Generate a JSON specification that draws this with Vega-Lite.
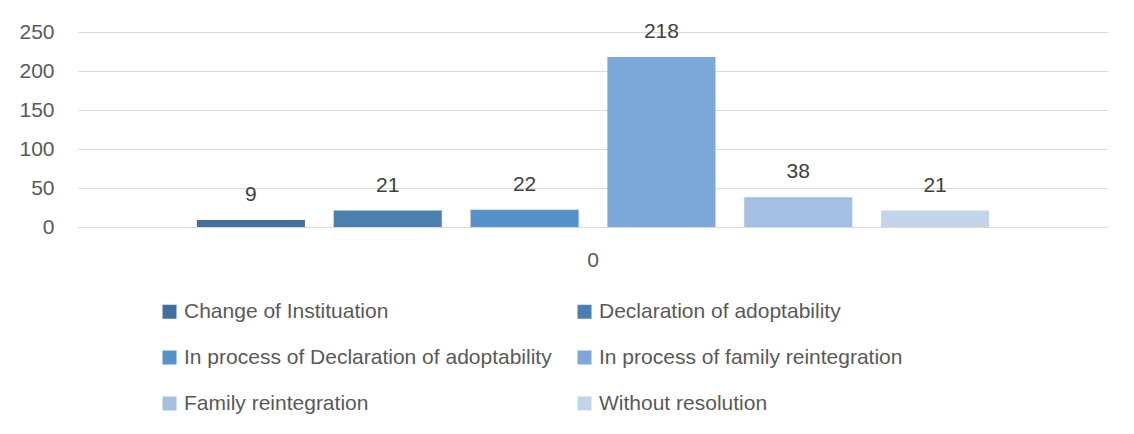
{
  "$schema": "https://vega.github.io/schema/vega-lite/v6.json",
  "width": 1030,
  "height": 195,
  "autosize": {"type": "none"},
  "padding": {"left": 78, "top": 32, "right": 26, "bottom": 207},
  "background": "white",
  "config": {"view": {"stroke": null}, "font": "Liberation Sans"},
  "data": {
    "values": [
      {"category": "0", "series": "Change of Instituation", "value": 9},
      {"category": "0", "series": "Declaration of adoptability", "value": 21},
      {"category": "0", "series": "In process of Declaration of adoptability", "value": 22},
      {"category": "0", "series": "In process of family reintegration", "value": 218},
      {"category": "0", "series": "Family reintegration", "value": 38},
      {"category": "0", "series": "Without resolution", "value": 21}
    ]
  },
  "encoding": {
    "x": {
      "field": "category",
      "type": "nominal",
      "scale": {"paddingOuter": 0.15, "paddingInner": 0},
      "axis": {
        "title": null,
        "ticks": false,
        "domainColor": "#D9D9D9",
        "labelAngle": 0,
        "labelPadding": 22,
        "labelFontSize": 21,
        "labelColor": "#595959",
        "labelBaseline": "top"
      }
    },
    "xOffset": {
      "field": "series",
      "type": "nominal",
      "sort": [
        "Change of Instituation",
        "Declaration of adoptability",
        "In process of Declaration of adoptability",
        "In process of family reintegration",
        "Family reintegration",
        "Without resolution"
      ],
      "scale": {"paddingInner": 0.21, "paddingOuter": 0}
    },
    "y": {
      "field": "value",
      "type": "quantitative",
      "scale": {"domain": [0, 250]},
      "axis": {
        "title": null,
        "values": [0, 50, 100, 150, 200, 250],
        "domain": false,
        "ticks": false,
        "labelPadding": 24,
        "labelFontSize": 21,
        "labelColor": "#595959",
        "gridColor": "#D9D9D9"
      }
    }
  },
  "layer": [
    {
      "mark": {"type": "bar"},
      "encoding": {
        "color": {
          "field": "series",
          "type": "nominal",
          "scale": {
            "domain": [
              "Change of Instituation",
              "Declaration of adoptability",
              "In process of Declaration of adoptability",
              "In process of family reintegration",
              "Family reintegration",
              "Without resolution"
            ],
            "range": ["#41709E", "#4A7FB2", "#5592CB", "#7BA7D9", "#A5BFE3", "#C3D3EA"]
          },
          "legend": {
            "orient": "none",
            "legendX": 81,
            "legendY": 269,
            "columns": 2,
            "values": [
              "Change of Instituation",
              "In process of Declaration of adoptability",
              "Family reintegration",
              "Declaration of adoptability",
              "In process of family reintegration",
              "Without resolution"
            ],
            "title": null,
            "symbolType": "square",
            "symbolSize": 196,
            "symbolStrokeWidth": 0,
            "labelFontSize": 21,
            "labelColor": "#595959",
            "labelLimit": 600,
            "labelOffset": 4,
            "rowPadding": 24,
            "columnPadding": 22
          }
        }
      }
    },
    {
      "mark": {"type": "text", "baseline": "alphabetic", "dy": -19, "fontSize": 21, "color": "#404040"},
      "encoding": {"text": {"field": "value", "type": "quantitative"}}
    }
  ]
}
